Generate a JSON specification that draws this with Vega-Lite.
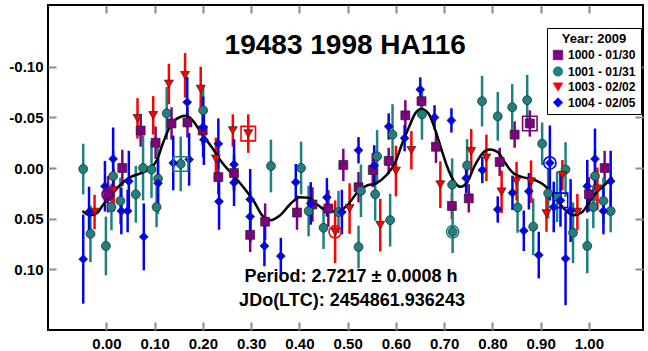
{
  "$schema": "https://vega.github.io/schema/vega-lite/v6.json",
  "width": 595,
  "height": 325,
  "autosize": {"type": "none"},
  "padding": {"left": 48, "top": 5, "right": 5, "bottom": 21},
  "background": "white",
  "config": {
    "view": {"stroke": "black", "strokeWidth": 2},
    "font": "Liberation Sans",
    "locale": {"number": {"decimal": ".", "thousands": ",", "grouping": [3], "currency": ["$", ""], "minus": "-"}},
    "axis": {"domain": false, "grid": false, "tickColor": "#8c8c8c", "tickWidth": 2, "tickSize": -8, "labelFont": "Liberation Sans", "labelFontSize": 15, "labelFontWeight": "bold", "labelColor": "black"},
    "legend": {"orient": "none", "legendX": 499, "legendY": 23, "fillColor": "white", "strokeColor": "black", "padding": 5, "titleAnchor": "middle", "titleFontSize": 13, "titleFontWeight": "bold", "titleColor": "black", "titleFont": "Liberation Sans", "titlePadding": 3, "labelFontSize": 12, "labelFontWeight": "bold", "labelColor": "black", "labelFont": "Liberation Sans", "symbolSize": 90, "rowPadding": 2.5, "symbolStrokeWidth": 0.7, "symbolStrokeColor": "#222222"}
  },
  "datasets": {
    "pts": [
      {"s": "1000 - 01/30", "p": 0.0035, "m": 0.026, "e": 0.018},
      {"s": "1000 - 01/30", "p": 0.033, "m": 0.000, "e": 0.018},
      {"s": "1000 - 01/30", "p": 0.071, "m": -0.037, "e": 0.016},
      {"s": "1000 - 01/30", "p": 0.102, "m": -0.025, "e": 0.016},
      {"s": "1000 - 01/30", "p": 0.135, "m": -0.044, "e": 0.016},
      {"s": "1000 - 01/30", "p": 0.168, "m": -0.045, "e": 0.015},
      {"s": "1000 - 01/30", "p": 0.1995, "m": -0.037, "e": 0.015},
      {"s": "1000 - 01/30", "p": 0.232, "m": 0.009, "e": 0.017},
      {"s": "1000 - 01/30", "p": 0.2645, "m": 0.005, "e": 0.018},
      {"s": "1000 - 01/30", "p": 0.298, "m": 0.066, "e": 0.017},
      {"s": "1000 - 01/30", "p": 0.329, "m": 0.053, "e": 0.018},
      {"s": "1000 - 01/30", "p": 0.395, "m": 0.044, "e": 0.017},
      {"s": "1000 - 01/30", "p": 0.427, "m": 0.036, "e": 0.017},
      {"s": "1000 - 01/30", "p": 0.460, "m": 0.040, "e": 0.018},
      {"s": "1000 - 01/30", "p": 0.491, "m": -0.003, "e": 0.016},
      {"s": "1000 - 01/30", "p": 0.5225, "m": 0.019, "e": 0.015},
      {"s": "1000 - 01/30", "p": 0.552, "m": 0.002, "e": 0.017},
      {"s": "1000 - 01/30", "p": 0.585, "m": -0.007, "e": 0.013},
      {"s": "1000 - 01/30", "p": 0.6195, "m": -0.052, "e": 0.015},
      {"s": "1000 - 01/30", "p": 0.653, "m": -0.066, "e": 0.013},
      {"s": "1000 - 01/30", "p": 0.683, "m": -0.021, "e": 0.016},
      {"s": "1000 - 01/30", "p": 0.716, "m": 0.0375, "e": 0.013},
      {"s": "1000 - 01/30", "p": 0.751, "m": 0.030, "e": 0.014},
      {"s": "1000 - 01/30", "p": 0.815, "m": -0.006, "e": 0.014},
      {"s": "1000 - 01/30", "p": 0.846, "m": -0.033, "e": 0.013},
      {"s": "1000 - 01/30", "p": 0.8775, "m": -0.044, "e": 0.013},
      {"s": "1000 - 01/30", "p": 1.000, "m": 0.026, "e": 0.017},
      {"s": "1000 - 01/30", "p": 1.0325, "m": 0.000, "e": 0.017},

      {"s": "1001 - 01/31", "p": -0.048, "m": 0.001, "e": 0.025},
      {"s": "1001 - 01/31", "p": -0.033, "m": 0.065, "e": 0.028},
      {"s": "1001 - 01/31", "p": -0.001, "m": 0.077, "e": 0.029},
      {"s": "1001 - 01/31", "p": 0.014, "m": 0.008, "e": 0.025},
      {"s": "1001 - 01/31", "p": 0.0105, "m": 0.0385, "e": 0.023},
      {"s": "1001 - 01/31", "p": 0.029, "m": 0.0325, "e": 0.023},
      {"s": "1001 - 01/31", "p": 0.061, "m": 0.026, "e": 0.028},
      {"s": "1001 - 01/31", "p": 0.076, "m": 0.000, "e": 0.032},
      {"s": "1001 - 01/31", "p": 0.0935, "m": 0.0015, "e": 0.028},
      {"s": "1001 - 01/31", "p": 0.104, "m": 0.0385, "e": 0.020},
      {"s": "1001 - 01/31", "p": 0.107, "m": 0.0105, "e": 0.035},
      {"s": "1001 - 01/31", "p": 0.125, "m": -0.054, "e": 0.026},
      {"s": "1001 - 01/31", "p": 0.154, "m": -0.004, "e": 0.027},
      {"s": "1001 - 01/31", "p": 0.2005, "m": -0.057, "e": 0.025},
      {"s": "1001 - 01/31", "p": 0.341, "m": -0.002, "e": 0.026},
      {"s": "1001 - 01/31", "p": 0.4035, "m": 0.000, "e": 0.026},
      {"s": "1001 - 01/31", "p": 0.419, "m": 0.0425, "e": 0.025},
      {"s": "1001 - 01/31", "p": 0.450, "m": 0.059, "e": 0.021},
      {"s": "1001 - 01/31", "p": 0.481, "m": 0.0435, "e": 0.021},
      {"s": "1001 - 01/31", "p": 0.5275, "m": 0.0225, "e": 0.026},
      {"s": "1001 - 01/31", "p": 0.5225, "m": 0.078, "e": 0.021},
      {"s": "1001 - 01/31", "p": 0.561, "m": -0.0115, "e": 0.026},
      {"s": "1001 - 01/31", "p": 0.557, "m": 0.026, "e": 0.026},
      {"s": "1001 - 01/31", "p": 0.588, "m": 0.0515, "e": 0.026},
      {"s": "1001 - 01/31", "p": 0.593, "m": -0.033, "e": 0.030},
      {"s": "1001 - 01/31", "p": 0.654, "m": -0.053, "e": 0.025},
      {"s": "1001 - 01/31", "p": 0.7165, "m": 0.0165, "e": 0.026},
      {"s": "1001 - 01/31", "p": 0.7175, "m": 0.063, "e": 0.021},
      {"s": "1001 - 01/31", "p": 0.7475, "m": -0.0025, "e": 0.026},
      {"s": "1001 - 01/31", "p": 0.7785, "m": -0.066, "e": 0.025},
      {"s": "1001 - 01/31", "p": 0.811, "m": -0.051, "e": 0.024},
      {"s": "1001 - 01/31", "p": 0.841, "m": -0.060, "e": 0.023},
      {"s": "1001 - 01/31", "p": 0.852, "m": 0.039, "e": 0.025},
      {"s": "1001 - 01/31", "p": 0.872, "m": -0.067, "e": 0.025},
      {"s": "1001 - 01/31", "p": 0.8845, "m": 0.058, "e": 0.028},
      {"s": "1001 - 01/31", "p": 0.903, "m": -0.024, "e": 0.021},
      {"s": "1001 - 01/31", "p": 0.9155, "m": 0.025, "e": 0.025},
      {"s": "1001 - 01/31", "p": 0.934, "m": 0.0285, "e": 0.025},
      {"s": "1001 - 01/31", "p": 0.9515, "m": 0.0015, "e": 0.027},
      {"s": "1001 - 01/31", "p": 0.967, "m": 0.064, "e": 0.030},
      {"s": "1001 - 01/31", "p": 0.9965, "m": 0.077, "e": 0.027},
      {"s": "1001 - 01/31", "p": 1.0125, "m": 0.008, "e": 0.025},
      {"s": "1001 - 01/31", "p": 1.009, "m": 0.0385, "e": 0.021},
      {"s": "1001 - 01/31", "p": 1.03, "m": 0.0325, "e": 0.023},
      {"s": "1001 - 01/31", "p": 1.045, "m": 0.0425, "e": 0.021},

      {"s": "1003 - 02/02", "p": -0.0245, "m": 0.0435, "e": 0.017},
      {"s": "1003 - 02/02", "p": 0.015, "m": 0.022, "e": 0.021},
      {"s": "1003 - 02/02", "p": 0.0645, "m": -0.049, "e": 0.020},
      {"s": "1003 - 02/02", "p": 0.097, "m": -0.052, "e": 0.019},
      {"s": "1003 - 02/02", "p": 0.1295, "m": -0.083, "e": 0.020},
      {"s": "1003 - 02/02", "p": 0.163, "m": -0.0915, "e": 0.022},
      {"s": "1003 - 02/02", "p": 0.1955, "m": -0.078, "e": 0.022},
      {"s": "1003 - 02/02", "p": 0.227, "m": -0.009, "e": 0.021},
      {"s": "1003 - 02/02", "p": 0.262, "m": -0.037, "e": 0.016},
      {"s": "1003 - 02/02", "p": 0.294, "m": -0.034, "e": 0.019},
      {"s": "1003 - 02/02", "p": 0.474, "m": 0.063, "e": 0.031},
      {"s": "1003 - 02/02", "p": 0.504, "m": 0.040, "e": 0.025},
      {"s": "1003 - 02/02", "p": 0.5675, "m": 0.0565, "e": 0.026},
      {"s": "1003 - 02/02", "p": 0.600, "m": 0.003, "e": 0.025},
      {"s": "1003 - 02/02", "p": 0.632, "m": -0.0175, "e": 0.019},
      {"s": "1003 - 02/02", "p": 0.692, "m": 0.0165, "e": 0.023},
      {"s": "1003 - 02/02", "p": 0.756, "m": -0.0165, "e": 0.022},
      {"s": "1003 - 02/02", "p": 0.7875, "m": -0.010, "e": 0.023},
      {"s": "1003 - 02/02", "p": 0.819, "m": 0.0235, "e": 0.021},
      {"s": "1003 - 02/02", "p": 0.850, "m": 0.013, "e": 0.019},
      {"s": "1003 - 02/02", "p": 0.880, "m": 0.0135, "e": 0.021},
      {"s": "1003 - 02/02", "p": 0.912, "m": 0.045, "e": 0.018},
      {"s": "1003 - 02/02", "p": 0.945, "m": 0.007, "e": 0.015},
      {"s": "1003 - 02/02", "p": 0.976, "m": 0.0435, "e": 0.018},
      {"s": "1003 - 02/02", "p": 1.0175, "m": 0.0205, "e": 0.021},

      {"s": "1004 - 02/05", "p": -0.048, "m": 0.090, "e": 0.044},
      {"s": "1004 - 02/05", "p": -0.036, "m": 0.0435, "e": 0.025},
      {"s": "1004 - 02/05", "p": -0.003, "m": 0.018, "e": 0.025},
      {"s": "1004 - 02/05", "p": 0.014, "m": -0.009, "e": 0.031},
      {"s": "1004 - 02/05", "p": 0.031, "m": 0.0425, "e": 0.023},
      {"s": "1004 - 02/05", "p": 0.044, "m": 0.0425, "e": 0.021},
      {"s": "1004 - 02/05", "p": 0.0465, "m": 0.013, "e": 0.030},
      {"s": "1004 - 02/05", "p": 0.0775, "m": 0.068, "e": 0.033},
      {"s": "1004 - 02/05", "p": 0.107, "m": 0.015, "e": 0.025},
      {"s": "1004 - 02/05", "p": 0.1385, "m": -0.005, "e": 0.027},
      {"s": "1004 - 02/05", "p": 0.1675, "m": -0.065, "e": 0.025},
      {"s": "1004 - 02/05", "p": 0.1715, "m": -0.0085, "e": 0.026},
      {"s": "1004 - 02/05", "p": 0.2005, "m": -0.0405, "e": 0.030},
      {"s": "1004 - 02/05", "p": 0.202, "m": -0.028, "e": 0.025},
      {"s": "1004 - 02/05", "p": 0.232, "m": -0.024, "e": 0.025},
      {"s": "1004 - 02/05", "p": 0.2335, "m": 0.033, "e": 0.028},
      {"s": "1004 - 02/05", "p": 0.2645, "m": -0.0035, "e": 0.025},
      {"s": "1004 - 02/05", "p": 0.2645, "m": 0.0145, "e": 0.023},
      {"s": "1004 - 02/05", "p": 0.298, "m": 0.031, "e": 0.030},
      {"s": "1004 - 02/05", "p": 0.298, "m": 0.048, "e": 0.025},
      {"s": "1004 - 02/05", "p": 0.3275, "m": 0.077, "e": 0.020},
      {"s": "1004 - 02/05", "p": 0.3615, "m": 0.087, "e": 0.018},
      {"s": "1004 - 02/05", "p": 0.3925, "m": 0.014, "e": 0.018},
      {"s": "1004 - 02/05", "p": 0.4235, "m": 0.035, "e": 0.021},
      {"s": "1004 - 02/05", "p": 0.457, "m": 0.029, "e": 0.019},
      {"s": "1004 - 02/05", "p": 0.488, "m": 0.0435, "e": 0.022},
      {"s": "1004 - 02/05", "p": 0.5225, "m": -0.0175, "e": 0.013},
      {"s": "1004 - 02/05", "p": 0.555, "m": -0.0025, "e": 0.020},
      {"s": "1004 - 02/05", "p": 0.585, "m": -0.041, "e": 0.013},
      {"s": "1004 - 02/05", "p": 0.618, "m": -0.0295, "e": 0.013},
      {"s": "1004 - 02/05", "p": 0.6505, "m": -0.0775, "e": 0.012},
      {"s": "1004 - 02/05", "p": 0.680, "m": -0.050, "e": 0.012},
      {"s": "1004 - 02/05", "p": 0.715, "m": -0.047, "e": 0.012},
      {"s": "1004 - 02/05", "p": 0.7455, "m": 0.010, "e": 0.015},
      {"s": "1004 - 02/05", "p": 0.779, "m": 0.002, "e": 0.013},
      {"s": "1004 - 02/05", "p": 0.811, "m": 0.041, "e": 0.013},
      {"s": "1004 - 02/05", "p": 0.8415, "m": 0.0245, "e": 0.017},
      {"s": "1004 - 02/05", "p": 0.865, "m": 0.062, "e": 0.020},
      {"s": "1004 - 02/05", "p": 0.8755, "m": 0.023, "e": 0.018},
      {"s": "1004 - 02/05", "p": 0.896, "m": 0.086, "e": 0.023},
      {"s": "1004 - 02/05", "p": 0.919, "m": -0.005, "e": 0.037},
      {"s": "1004 - 02/05", "p": 0.927, "m": 0.0385, "e": 0.025},
      {"s": "1004 - 02/05", "p": 0.941, "m": 0.032, "e": 0.026},
      {"s": "1004 - 02/05", "p": 0.9515, "m": 0.0895, "e": 0.046},
      {"s": "1004 - 02/05", "p": 0.962, "m": 0.042, "e": 0.031},
      {"s": "1004 - 02/05", "p": 0.9965, "m": 0.018, "e": 0.026},
      {"s": "1004 - 02/05", "p": 1.0125, "m": -0.009, "e": 0.030},
      {"s": "1004 - 02/05", "p": 1.03, "m": 0.0425, "e": 0.023},
      {"s": "1004 - 02/05", "p": 1.045, "m": 0.013, "e": 0.030}
    ],
    "curve": [
      {"p": -0.0496, "m": 0.0424}, {"p": -0.0345, "m": 0.0467}, {"p": -0.0199, "m": 0.0447},
      {"p": -0.0075, "m": 0.0368}, {"p": 0.0071, "m": 0.0286}, {"p": 0.0278, "m": 0.0171},
      {"p": 0.0486, "m": 0.0092}, {"p": 0.0693, "m": 0.0055}, {"p": 0.0901, "m": 0.0006},
      {"p": 0.1046, "m": -0.0076}, {"p": 0.1171, "m": -0.0244}, {"p": 0.1351, "m": -0.0438},
      {"p": 0.1524, "m": -0.0503}, {"p": 0.1649, "m": -0.0515}, {"p": 0.1767, "m": -0.0481},
      {"p": 0.1974, "m": -0.034}, {"p": 0.2182, "m": -0.0207}, {"p": 0.2389, "m": -0.0059},
      {"p": 0.2666, "m": 0.0092}, {"p": 0.2873, "m": 0.021}, {"p": 0.3081, "m": 0.0348},
      {"p": 0.3226, "m": 0.0467}, {"p": 0.3392, "m": 0.0516}, {"p": 0.36, "m": 0.0467},
      {"p": 0.3807, "m": 0.0358}, {"p": 0.4015, "m": 0.0289}, {"p": 0.4181, "m": 0.0294},
      {"p": 0.4389, "m": 0.0368}, {"p": 0.4596, "m": 0.0427}, {"p": 0.4804, "m": 0.0427},
      {"p": 0.5011, "m": 0.0358}, {"p": 0.5219, "m": 0.023}, {"p": 0.5385, "m": 0.0176},
      {"p": 0.5592, "m": 0.0151}, {"p": 0.58, "m": 0.0072}, {"p": 0.5987, "m": -0.0056},
      {"p": 0.6132, "m": -0.0244}, {"p": 0.6278, "m": -0.0412}, {"p": 0.6402, "m": -0.054},
      {"p": 0.6527, "m": -0.0584}, {"p": 0.6672, "m": -0.054}, {"p": 0.6817, "m": -0.0372},
      {"p": 0.6942, "m": -0.0185}, {"p": 0.7067, "m": -0.0007}, {"p": 0.7191, "m": 0.0121},
      {"p": 0.7336, "m": 0.0186}, {"p": 0.7481, "m": 0.0136}, {"p": 0.7627, "m": -0.0017},
      {"p": 0.7793, "m": -0.0145}, {"p": 0.7938, "m": -0.0182}, {"p": 0.8104, "m": -0.016},
      {"p": 0.827, "m": -0.0046}, {"p": 0.8436, "m": 0.0052}, {"p": 0.8644, "m": 0.0092},
      {"p": 0.8851, "m": 0.0115}, {"p": 0.9101, "m": 0.0181}, {"p": 0.9308, "m": 0.0299},
      {"p": 0.9516, "m": 0.0418}, {"p": 0.9682, "m": 0.0467}, {"p": 0.9863, "m": 0.0434},
      {"p": 0.9994, "m": 0.0348}, {"p": 1.0141, "m": 0.025}, {"p": 1.0285, "m": 0.0186},
      {"p": 1.0487, "m": 0.0089}
    ],
    "hsq": [
      {"s": "1001 - 01/31", "p": 0.154, "m": -0.004},
      {"s": "1003 - 02/02", "p": 0.294, "m": -0.034},
      {"s": "1000 - 01/30", "p": 0.8775, "m": -0.044},
      {"s": "1004 - 02/05", "p": 0.941, "m": 0.032}
    ],
    "hci": [
      {"s": "1000 - 01/30", "p": 0.0035, "m": 0.026},
      {"s": "1003 - 02/02", "p": 0.474, "m": 0.063},
      {"s": "1001 - 01/31", "p": 0.7175, "m": 0.063},
      {"s": "1004 - 02/05", "p": 0.919, "m": -0.005}
    ]
  },
  "resolve": {"axis": {"x": "independent", "y": "independent"}},
  "layer": [
    {
      "data": {"name": "pts"},
      "mark": {"type": "errorbar", "ticks": false, "thickness": 2.5},
      "encoding": {
        "x": {"field": "p", "type": "quantitative",
              "scale": {"domain": [-0.121, 1.112], "nice": false, "zero": false},
              "axis": {"orient": "bottom", "values": [0, 0.1, 0.2, 0.3, 0.4, 0.5, 0.6, 0.7, 0.8, 0.9, 1.0], "format": ".2f", "labelPadding": 14, "title": null}},
        "y": {"field": "m", "type": "quantitative",
              "scale": {"domain": [-0.161, 0.16], "reverse": true, "nice": false, "zero": false},
              "axis": {"orient": "left", "values": [-0.1, -0.05, 0, 0.05, 0.1], "format": ".2f", "labelPadding": 13, "title": null}},
        "yError": {"field": "e"},
        "color": {"field": "s", "type": "nominal", "title": "Year: 2009",
                  "scale": {"domain": ["1000 - 01/30", "1001 - 01/31", "1003 - 02/02", "1004 - 02/05"], "range": ["#800080", "#1f8080", "#ff0000", "#0000ff"]}}
      }
    },
    {
      "data": {"name": "curve"},
      "mark": {"type": "line", "color": "black", "strokeWidth": 2.5, "interpolate": "monotone"},
      "encoding": {
        "x": {"field": "p", "type": "quantitative", "axis": {"orient": "top", "labels": false, "values": [0, 0.1, 0.2, 0.3, 0.4, 0.5, 0.6, 0.7, 0.8, 0.9, 1.0], "title": null}},
        "y": {"field": "m", "type": "quantitative", "axis": {"orient": "right", "labels": false, "values": [-0.1, -0.05, 0, 0.05, 0.1], "title": null}}
      }
    },
    {
      "data": {"name": "pts"},
      "mark": {"type": "point", "filled": true, "size": 80, "opacity": 1, "stroke": "#222222", "strokeWidth": 0.7},
      "encoding": {
        "x": {"field": "p", "type": "quantitative", "axis": null},
        "y": {"field": "m", "type": "quantitative", "axis": null},
        "color": {"field": "s", "type": "nominal", "title": "Year: 2009"},
        "shape": {"field": "s", "type": "nominal", "title": "Year: 2009",
                  "scale": {"domain": ["1000 - 01/30", "1001 - 01/31", "1003 - 02/02", "1004 - 02/05"], "range": ["square", "circle", "triangle-down", "diamond"]}}
      }
    },
    {
      "data": {"name": "hsq"},
      "mark": {"type": "point", "shape": "square", "filled": false, "size": 210, "strokeWidth": 1.6, "opacity": 1},
      "encoding": {
        "x": {"field": "p", "type": "quantitative", "axis": null},
        "y": {"field": "m", "type": "quantitative", "axis": null},
        "color": {"field": "s", "type": "nominal", "title": "Year: 2009"}
      }
    },
    {
      "data": {"name": "hci"},
      "mark": {"type": "point", "shape": "circle", "filled": false, "size": 150, "strokeWidth": 1.6, "opacity": 1},
      "encoding": {
        "x": {"field": "p", "type": "quantitative", "axis": null},
        "y": {"field": "m", "type": "quantitative", "axis": null},
        "color": {"field": "s", "type": "nominal", "title": "Year: 2009"}
      }
    },
    {
      "data": {"values": [{}]},
      "mark": {"type": "text", "text": "19483 1998 HA116", "font": "Liberation Sans", "fontSize": 28, "fontWeight": "bold", "color": "black", "align": "center", "baseline": "alphabetic"},
      "encoding": {
        "x": {"datum": 0.495, "type": "quantitative", "axis": null},
        "y": {"datum": -0.113, "type": "quantitative", "axis": null}
      }
    },
    {
      "data": {"values": [{}]},
      "mark": {"type": "text", "text": "Period: 2.7217 ± 0.0008 h", "font": "Liberation Sans", "fontSize": 18, "fontWeight": "bold", "color": "black", "align": "center", "baseline": "alphabetic"},
      "encoding": {
        "x": {"datum": 0.507, "type": "quantitative", "axis": null},
        "y": {"datum": 0.1125, "type": "quantitative", "axis": null}
      }
    },
    {
      "data": {"values": [{}]},
      "mark": {"type": "text", "text": "JDo(LTC): 2454861.936243", "font": "Liberation Sans", "fontSize": 18, "fontWeight": "bold", "color": "black", "align": "center", "baseline": "alphabetic"},
      "encoding": {
        "x": {"datum": 0.509, "type": "quantitative", "axis": null},
        "y": {"datum": 0.136, "type": "quantitative", "axis": null}
      }
    }
  ]
}
